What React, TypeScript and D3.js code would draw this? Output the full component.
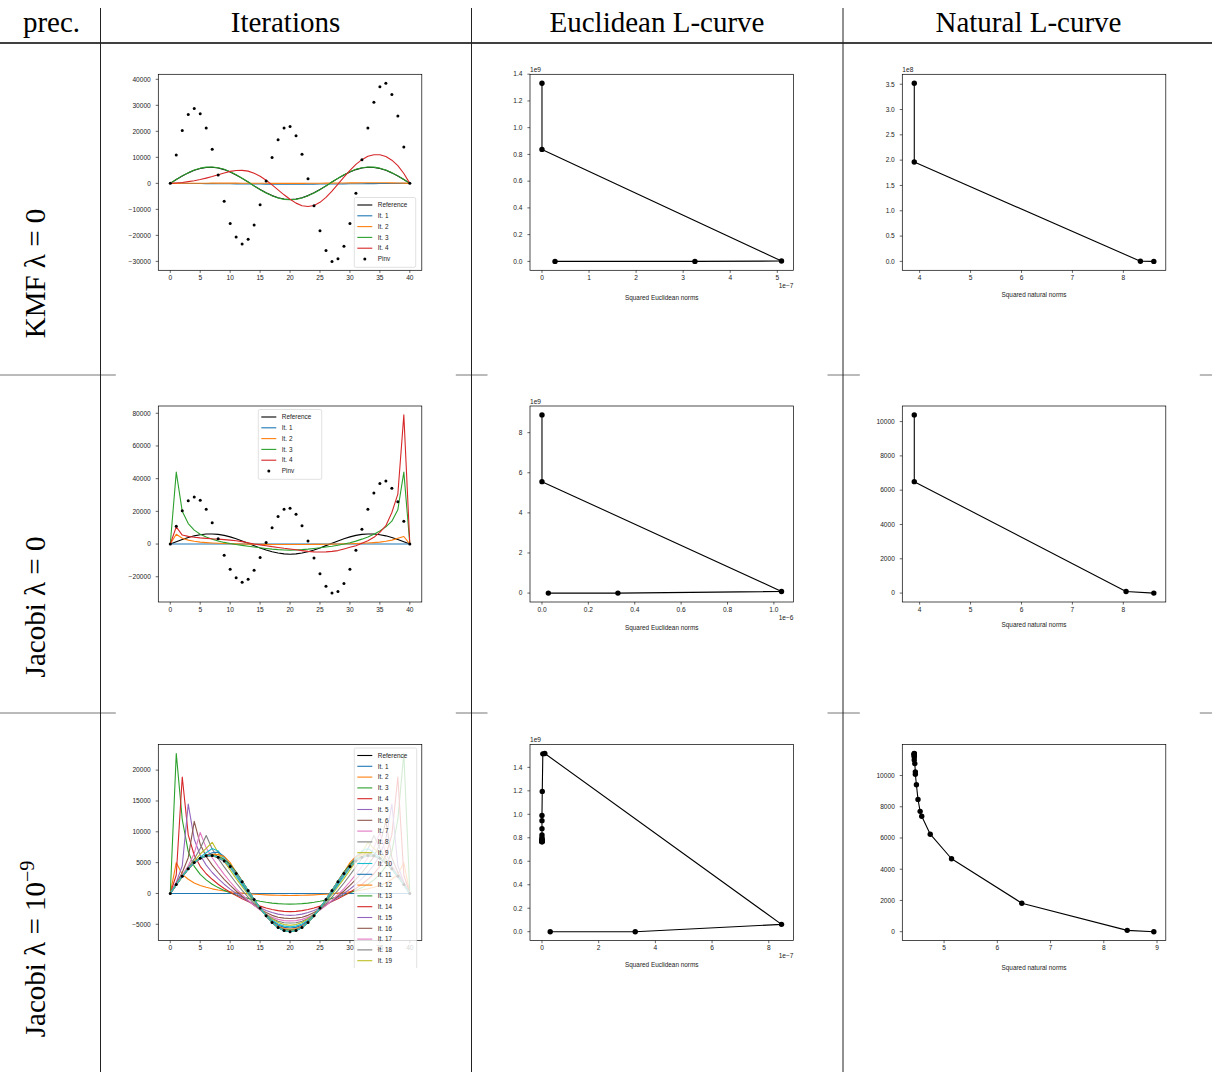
import * as d3 from "d3";

const W = 1212;
const H = 1072;
// plot frame size of every small matplotlib figure
const FW = 263.5;
const FH = 196;
const COL_X = [158.3, 530, 902.3];
const ROW_Y = [74.3, 406, 744.6];
// white backgrounds of the embedded figure images (they hide the table rules)
const IMG_TOP = [44, 374, 712];
const IMG_BOTTOM = [299, 629, 968];

const TAB10 = ["#1f77b4", "#ff7f0e", "#2ca02c", "#d62728", "#9467bd", "#8c564b", "#e377c2", "#7f7f7f", "#bcbd22", "#17becf"];

const SANS = "'Liberation Sans', Arial, Helvetica, sans-serif";
const SERIF = "'Liberation Serif', 'Times New Roman', Times, serif";

const columnTitles = ["prec.", "Iterations", "Euclidean L-curve", "Natural L-curve"];

// ---------- iterations: grid nodes 0..40 ----------
const nodes = [0, 1, 2, 3, 4, 5, 6, 7, 8, 9, 10, 11, 12, 13, 14, 15, 16, 17, 18, 19, 20, 21, 22, 23, 24, 25, 26, 27, 28, 29, 30, 31, 32, 33, 34, 35, 36, 37, 38, 39, 40];

const reference = [0, 1450, 2810, 4030, 5020, 5730, 6120, 6180, 5900, 5290, 4380, 3240, 1920, 490, -970, -2370, -3640, -4710, -5520, -6030, -6200, -6030, -5520, -4710, -3640, -2370, -970, 490, 1920, 3240, 4380, 5290, 5900, 6180, 6120, 5730, 5020, 4030, 2810, 1450, 0];

const pinv = [0, 10900, 20300, 26500, 28800, 26800, 21300, 13100, 3200, -6900, -15400, -20600, -23300, -21500, -16000, -8200, 900, 9900, 16800, 21300, 21900, 18300, 11200, 1800, -8600, -18200, -25800, -30000, -29000, -24200, -15400, -3800, 9100, 21300, 31200, 37100, 38500, 34200, 25900, 14000, 0];

const pinvReg = [0, 1440, 2800, 4020, 5010, 5720, 6110, 6170, 5890, 5280, 4370, 3230, 1910, 490, -960, -2360, -3630, -4700, -5510, -6020, -6190, -6020, -5510, -4700, -3630, -2360, -960, 490, 1910, 3230, 4370, 5280, 5890, 6170, 6110, 5720, 5010, 4020, 2800, 1440, 0];

// KMF, lambda = 0
const kmfIt1 = [0, -10, -20, -40, -60, -80, -100, -120, -140, -160, -180, -200, -220, -240, -260, -270, -280, -290, -300, -300, -300, -300, -300, -290, -280, -270, -260, -240, -220, -200, -180, -160, -140, -120, -100, -80, -60, -40, -20, -10, 0];
const kmfIt2 = [0, 10, 20, 30, 40, 50, 60, 70, 80, 80, 80, 70, 60, 50, 40, 30, 20, 10, 0, 0, 0, 0, 10, 20, 40, 60, 80, 100, 120, 150, 180, 200, 220, 240, 250, 250, 240, 200, 150, 80, 0];
const kmfIt3 = [0, 1480, 2870, 4110, 5120, 5840, 6240, 6300, 6020, 5400, 4470, 3300, 1960, 500, -990, -2420, -3710, -4800, -5630, -6150, -6320, -6150, -5630, -4800, -3710, -2420, -990, 500, 1960, 3300, 4470, 5400, 6020, 6300, 6240, 5840, 5120, 4110, 2870, 1480, 0];
const kmfIt4 = [0, 150, 350, 650, 1000, 1450, 2000, 2600, 3300, 4000, 4600, 4950, 5000, 4700, 3900, 2700, 1200, -600, -2500, -4400, -6100, -7600, -8600, -8900, -8500, -7300, -5400, -3000, -300, 2400, 5000, 7300, 9100, 10400, 11000, 11000, 10300, 8900, 6800, 3800, 0];

// Jacobi, lambda = 0
const jacIt1 = [0, 0, 0, 0, 0, 0, 0, 0, 0, 0, 0, 0, 0, 0, 0, 0, 0, 0, 0, 0, 0, 0, 0, 0, 0, 0, 0, 0, 0, 0, 0, 0, 0, 0, 0, 0, 0, 0, 0, 0, 0];
const jacIt2 = [0, 6000, 3600, 2400, 1700, 1200, 900, 650, 450, 300, 180, 80, 0, -60, -120, -170, -210, -240, -260, -270, -270, -270, -260, -240, -210, -170, -120, -60, 0, 80, 180, 300, 450, 650, 900, 1200, 1700, 2400, 3600, 4600, 0];
const jacIt3 = [0, 44000, 20000, 12500, 8500, 6000, 4300, 3000, 1900, 1000, 300, -300, -800, -1300, -1800, -2300, -2700, -3100, -3400, -3600, -3700, -3600, -3400, -3100, -2700, -2300, -1800, -1300, -700, 0, 800, 1800, 3000, 4300, 6000, 8000, 10500, 14000, 21000, 44000, 0];
const jacIt4 = [0, 10500, 5500, 4700, 4200, 3800, 3500, 3200, 3000, 2700, 2400, 2000, 1500, 800, 0, -500, -1000, -1600, -2100, -2600, -3000, -3500, -4000, -4500, -4800, -4900, -4800, -4500, -4000, -3000, -2000, -1000, 500, 2000, 4100, 7100, 11200, 19300, 30500, 79000, 0];

// Jacobi, lambda = 1e-9
const regIt1 = [0, 0, 0, 0, 0, 0, 0, 0, 0, 0, 0, 0, 0, 0, 0, 0, 0, 0, 0, 0, 0, 0, 0, 0, 0, 0, 0, 0, 0, 0, 0, 0, 0, 0, 0, 0, 0, 0, 0, 0, 0];
const regIt2 = [0, 5000, 3100, 2300, 1700, 1300, 1000, 750, 550, 400, 280, 150, 50, -40, -120, -180, -230, -270, -300, -310, -320, -310, -300, -270, -230, -180, -120, -40, 50, 150, 280, 400, 550, 750, 1000, 1300, 1700, 2300, 3100, 5000, 0];
const regIt3 = [0, 22700, 12000, 6800, 4400, 3100, 2200, 1500, 950, 500, 100, -250, -550, -800, -1050, -1250, -1420, -1560, -1650, -1710, -1730, -1710, -1650, -1560, -1420, -1250, -1050, -800, -550, -250, 100, 500, 950, 1500, 2200, 3100, 4400, 6800, 12000, 22700, 0];
const regIt4 = [0, 3000, 18900, 9500, 6200, 4400, 3200, 2300, 1500, 800, 200, -350, -850, -1300, -1700, -2050, -2350, -2600, -2780, -2900, -2950, -2900, -2780, -2600, -2350, -2050, -1700, -1300, -850, -350, 200, 800, 1500, 2300, 3200, 4400, 6200, 9500, 18900, 3000, 0];
const regIt5 = [0, 1800, 4500, 14500, 8800, 6200, 4600, 3400, 2400, 1500, 700, 0, -650, -1250, -1800, -2300, -2750, -3100, -3350, -3500, -3550, -3500, -3350, -3100, -2750, -2300, -1800, -1250, -650, 0, 700, 1500, 2400, 3400, 4600, 6200, 8800, 14500, 4500, 1800, 0];
const regIt6 = [0, 1600, 3400, 5800, 11700, 8000, 6000, 4600, 3400, 2300, 1300, 400, -450, -1200, -1900, -2550, -3100, -3550, -3850, -4000, -4050, -4000, -3850, -3550, -3100, -2550, -1900, -1200, -450, 400, 1300, 2300, 3400, 4600, 6000, 8000, 11700, 5800, 3400, 1600, 0];
const regIt7 = [0, 1500, 3000, 4500, 6500, 9900, 7400, 5800, 4400, 3100, 1900, 800, -200, -1100, -1950, -2700, -3350, -3850, -4200, -4400, -4450, -4400, -4200, -3850, -3350, -2700, -1950, -1100, -200, 800, 1900, 3100, 4400, 5800, 7400, 9900, 6500, 4500, 3000, 1500, 0];
const regIt8 = [0, 1400, 2800, 4200, 5600, 7300, 9400, 7200, 5700, 4300, 3000, 1700, 500, -600, -1650, -2600, -3400, -4050, -4500, -4750, -4800, -4750, -4500, -4050, -3400, -2600, -1650, -600, 500, 1700, 3000, 4300, 5700, 7200, 9400, 7300, 5600, 4200, 2800, 1400, 0];
const regIt9 = [0, 1400, 2700, 4000, 5200, 6400, 7300, 8300, 6600, 5200, 3800, 2400, 1100, -150, -1300, -2400, -3350, -4150, -4700, -5050, -5150, -5050, -4700, -4150, -3350, -2400, -1300, -150, 1100, 2400, 3800, 5200, 6600, 8300, 7300, 6400, 5200, 4000, 2700, 1400, 0];
const regIt10 = [0, 1400, 2700, 3900, 5000, 5900, 6600, 7300, 6900, 5600, 4200, 2800, 1400, 50, -1200, -2400, -3450, -4350, -4950, -5300, -5400, -5300, -4950, -4350, -3450, -2400, -1200, 50, 1400, 2800, 4200, 5600, 6900, 7300, 6600, 5900, 5000, 3900, 2700, 1400, 0];
const regIt11 = [0, 1400, 2750, 3950, 4950, 5700, 6200, 6600, 6700, 6000, 4600, 3100, 1650, 200, -1150, -2400, -3550, -4500, -5150, -5500, -5600, -5500, -5150, -4500, -3550, -2400, -1150, 200, 1650, 3100, 4600, 6000, 6700, 6600, 6200, 5700, 4950, 3950, 2750, 1400, 0];
const regIt12 = [0, 1450, 2800, 4000, 4950, 5700, 6150, 6350, 6300, 6000, 5000, 3400, 1900, 350, -1050, -2400, -3600, -4600, -5300, -5700, -5800, -5700, -5300, -4600, -3600, -2400, -1050, 350, 1900, 3400, 5000, 6000, 6300, 6350, 6150, 5700, 4950, 4000, 2800, 1450, 0];
const regIt13 = [0, 1450, 2800, 4000, 5000, 5700, 6150, 6250, 6000, 5500, 4700, 3500, 2000, 450, -1000, -2400, -3650, -4700, -5450, -5850, -5950, -5850, -5450, -4700, -3650, -2400, -1000, 450, 2000, 3500, 4700, 5500, 6000, 6250, 6150, 5700, 5000, 4000, 2800, 1450, 0];
const regIt14 = [0, 1450, 2800, 4020, 5010, 5720, 6130, 6200, 5950, 5350, 4500, 3400, 2000, 500, -1000, -2400, -3660, -4720, -5500, -5950, -6050, -5950, -5500, -4720, -3660, -2400, -1000, 500, 2000, 3400, 4500, 5350, 5950, 6200, 6130, 5720, 5010, 4020, 2800, 1450, 0];
const regIt15 = [0, 1430, 2760, 3960, 4930, 5630, 6020, 6080, 5810, 5210, 4310, 3190, 1890, 480, -950, -2330, -3580, -4630, -5430, -5930, -6100, -5930, -5430, -4630, -3580, -2330, -950, 480, 1890, 3190, 4310, 5210, 5810, 6080, 6020, 5630, 4930, 3960, 2760, 1430, 0];
const regIt16 = [0, 1440, 2790, 3990, 4970, 5680, 6060, 6120, 5840, 5240, 4340, 3210, 1900, 490, -960, -2350, -3600, -4660, -5460, -5970, -6140, -5970, -5460, -4660, -3600, -2350, -960, 490, 1900, 3210, 4340, 5240, 5840, 6120, 6060, 5680, 4970, 3990, 2790, 1440, 0];
const regIt17 = [0, 1445, 2800, 4010, 5000, 5710, 6100, 6160, 5880, 5270, 4360, 3230, 1910, 490, -965, -2360, -3620, -4690, -5500, -6000, -6170, -6000, -5500, -4690, -3620, -2360, -965, 490, 1910, 3230, 4360, 5270, 5880, 6160, 6100, 5710, 5000, 4010, 2800, 1445, 0];
const regIt18 = [0, 1450, 2805, 4020, 5010, 5720, 6110, 6170, 5890, 5280, 4370, 3235, 1915, 490, -968, -2365, -3630, -4700, -5510, -6020, -6190, -6020, -5510, -4700, -3630, -2365, -968, 490, 1915, 3235, 4370, 5280, 5890, 6170, 6110, 5720, 5010, 4020, 2805, 1450, 0];
const regIt19 = [0, 1450, 2808, 4025, 5015, 5725, 6115, 6175, 5895, 5285, 4375, 3238, 1918, 490, -969, -2368, -3635, -4705, -5515, -6025, -6195, -6025, -5515, -4705, -3635, -2368, -969, 490, 1918, 3238, 4375, 5285, 5895, 6175, 6115, 5725, 5015, 4025, 2808, 1450, 0];
const regIt20 = [0, 1450, 2810, 4030, 5020, 5730, 6120, 6180, 5900, 5290, 4380, 3240, 1920, 490, -970, -2370, -3640, -4710, -5520, -6030, -6200, -6030, -5520, -4710, -3640, -2370, -970, 490, 1920, 3240, 4380, 5290, 5900, 6180, 6120, 5730, 5020, 4030, 2810, 1450, 0];

// ---------- L-curves ----------
// Euclidean: x in units of the offset shown on the axis, y in units of 1e9
const euc1X = [0.277, 3.25, 5.09, 0.0, 0.0];
const euc1Y = [0.0, 0.0, 0.0025, 0.8375, 1.3325];
const euc2X = [0.0274, 0.3275, 1.033, 0.0, 0.0];
const euc2Y = [0.0, 0.0, 0.083, 5.557, 8.885];
const euc3X = [0.29, 3.29, 8.45, 0.1, 0.03, 0.01, 0.0, 0.0, 0.0, 0.0, 0.0, 0.0, 0.0, 0.0, 0.0, 0.0, 0.0, 0.0, 0.0, 0.0];
const euc3Y = [0.0, 0.0, 0.0625, 1.518, 1.515, 1.195, 0.99, 0.946, 0.878, 0.824, 0.8, 0.79, 0.782, 0.776, 0.772, 0.77, 0.769, 0.768, 0.767, 0.767];

// Natural
const nat1X = [8.598, 8.335, 3.895, 3.895];
const nat1Y = [0.0, 0.003, 1.962, 3.52];
const nat2X = [8.599, 8.054, 3.895, 3.895];
const nat2Y = [0, 97, 6498, 10389];
const nat3X = [8.94, 8.44, 6.46, 5.14, 4.74, 4.58, 4.55, 4.51, 4.48, 4.46, 4.46, 4.45, 4.44, 4.44, 4.44, 4.44, 4.44, 4.44, 4.44, 4.44];
const nat3Y = [0, 85, 1826, 4671, 6242, 7389, 7707, 8471, 9406, 10085, 10234, 10764, 11000, 11189, 11250, 11316, 11350, 11380, 11401, 11410];

// ---------- ticks ----------
const iterXTicks = [0, 5, 10, 15, 20, 25, 30, 35, 40];
const kmfYTicks = [-30000, -20000, -10000, 0, 10000, 20000, 30000, 40000];
const jacYTicks = [-20000, 0, 20000, 40000, 60000, 80000];
const regYTicks = [-5000, 0, 5000, 10000, 15000, 20000];
const euc1XTicks = [0, 1, 2, 3, 4, 5];
const euc1YTicks = [0, 0.2, 0.4, 0.6, 0.8, 1.0, 1.2, 1.4];
const euc2XTicks = [0, 0.2, 0.4, 0.6, 0.8, 1.0];
const euc2YTicks = [0, 2, 4, 6, 8];
const euc3XTicks = [0, 2, 4, 6, 8];
const euc3YTicks = [0, 0.2, 0.4, 0.6, 0.8, 1.0, 1.2, 1.4];
const nat1XTicks = [4, 5, 6, 7, 8];
const nat1YTicks = [0, 0.5, 1.0, 1.5, 2.0, 2.5, 3.0, 3.5];
const nat2XTicks = [4, 5, 6, 7, 8];
const nat2YTicks = [0, 2000, 4000, 6000, 8000, 10000];
const nat3XTicks = [5, 6, 7, 8, 9];
const nat3YTicks = [0, 2000, 4000, 6000, 8000, 10000];

const MINUS = "\u2212";
const fmtInt = (v: number) => (v < 0 ? MINUS + Math.abs(v) : String(v));
const fmt1 = (v: number) => (v < 0 ? MINUS : "") + Math.abs(v).toFixed(1);

type Mark = { xs: number[]; ys: number[]; color: string; line?: boolean; r?: number };
type LegendItem = { label: string; color: string; dot?: boolean };
type Legend = { x: number; y: number; w: number; items: LegendItem[] };

type PanelProps = {
    id: string;
    left: number;
    top: number;
    marks: Mark[];
    xTicks: number[];
    yTicks: number[];
    xFmt: (v: number) => string;
    yFmt: (v: number) => string;
    xOffset?: string;
    yOffset?: string;
    xLabel?: string;
    xLabelDy?: number;
    legend?: Legend;
    clipBottom?: number;
};

// matplotlib style autoscale: data extent + 5% margin
const padded = (vals: number[]): [number, number] => {
    const lo = d3.min(vals) ?? 0;
    const hi = d3.max(vals) ?? 1;
    const d = (hi - lo) * 0.05;
    return [lo - d, hi + d];
};

const Panel = (p: PanelProps) => {
    const right = p.left + FW;
    const bottom = p.top + FH;
    const x = d3.scaleLinear().domain(padded(p.marks.flatMap((m) => m.xs))).range([p.left, right]);
    const y = d3.scaleLinear().domain(padded(p.marks.flatMap((m) => m.ys))).range([bottom, p.top]);
    const line = d3
        .line<[number, number]>()
        .x((d) => x(d[0]))
        .y((d) => y(d[1]));

    const lg = p.legend;
    const ROW = 10.8;

    return (
        <g fontFamily={SANS}>
            <defs>
                <clipPath id={`${p.id}-ax`}>
                    <rect x={p.left} y={p.top} width={FW} height={FH} />
                </clipPath>
                {p.clipBottom && (
                    <clipPath id={`${p.id}-cut`}>
                        <rect x={0} y={0} width={W} height={p.clipBottom} />
                    </clipPath>
                )}
            </defs>
            <g clipPath={`url(#${p.id}-ax)`}>
                {p.marks.map((m, k) => {
                    const pts = m.xs.map((v, i) => [v, m.ys[i]] as [number, number]);
                    return (
                        <g key={k}>
                            {m.line && (
                                <path d={line(pts) || ""} fill="none" stroke={m.color} strokeWidth={1.1} strokeLinejoin="round" />
                            )}
                            {m.r && pts.map((d, i) => <circle key={i} cx={x(d[0])} cy={y(d[1])} r={m.r} fill={m.color} />)}
                        </g>
                    );
                })}
            </g>
            <rect x={p.left} y={p.top} width={FW} height={FH} fill="none" stroke="#000" strokeWidth={0.7} />
            {p.xTicks.map((t) => (
                <g key={"x" + t}>
                    <line x1={x(t)} x2={x(t)} y1={bottom} y2={bottom + 2.6} stroke="#000" strokeWidth={0.6} />
                    <text x={x(t)} y={bottom + 9.5} textAnchor="middle" fontSize={6.6} fill="#222">
                        {p.xFmt(t)}
                    </text>
                </g>
            ))}
            {p.yTicks.map((t) => (
                <g key={"y" + t}>
                    <line x1={p.left - 2.6} x2={p.left} y1={y(t)} y2={y(t)} stroke="#000" strokeWidth={0.6} />
                    <text x={p.left - 7.5} y={y(t)} dy="0.35em" textAnchor="end" fontSize={6.6} fill="#222">
                        {p.yFmt(t)}
                    </text>
                </g>
            ))}
            {p.yOffset && (
                <text x={p.left} y={p.top - 2.5} fontSize={6.6} fill="#222">
                    {p.yOffset}
                </text>
            )}
            {p.xOffset && (
                <text x={right} y={bottom + 17.5} textAnchor="end" fontSize={6.6} fill="#222">
                    {p.xOffset}
                </text>
            )}
            {p.xLabel && (
                <text x={(p.left + right) / 2} y={bottom + (p.xLabelDy || 27)} textAnchor="middle" fontSize={6.4} fill="#222">
                    {p.xLabel}
                </text>
            )}
            {lg && (
                <g clipPath={p.clipBottom ? `url(#${p.id}-cut)` : undefined}>
                    <rect
                        x={lg.x}
                        y={lg.y}
                        width={lg.w}
                        height={lg.items.length * ROW + 5}
                        rx={1.5}
                        fill="#fff"
                        fillOpacity={0.8}
                        stroke="#ccc"
                        strokeWidth={0.6}
                    />
                    {lg.items.map((it, i) => {
                        const cy = lg.y + 7.5 + i * ROW;
                        return (
                            <g key={i}>
                                {it.dot ? (
                                    <circle cx={lg.x + 10.5} cy={cy} r={1.5} fill={it.color} />
                                ) : (
                                    <line x1={lg.x + 3} x2={lg.x + 18} y1={cy} y2={cy} stroke={it.color} strokeWidth={1.1} />
                                )}
                                <text x={lg.x + 23.5} y={cy} dy="0.35em" fontSize={6.4} fill="#222">
                                    {it.label}
                                </text>
                            </g>
                        );
                    })}
                </g>
            )}
        </g>
    );
};

const iterMarks = (its: number[][], dots: number[]): Mark[] => [
    { xs: nodes, ys: reference, color: "#000", line: true },
    ...its.map((ys, i) => ({ xs: nodes, ys, color: TAB10[i % 10], line: true })),
    { xs: nodes, ys: dots, color: "#000", r: 1.5 },
];

const iterLegend = (n: number): LegendItem[] => [
    { label: "Reference", color: "#000" },
    ...d3.range(n).map((i) => ({ label: `It. ${i + 1}`, color: TAB10[i % 10] })),
    { label: "Pinv", color: "#000", dot: true },
];

const lcurve = (xs: number[], ys: number[]): Mark[] => [{ xs, ys, color: "#000", line: true, r: 2.7 }];

const kmfIts = [kmfIt1, kmfIt2, kmfIt3, kmfIt4];
const jacIts = [jacIt1, jacIt2, jacIt3, jacIt4];
const regIts = [regIt1, regIt2, regIt3, regIt4, regIt5, regIt6, regIt7, regIt8, regIt9, regIt10, regIt11, regIt12, regIt13, regIt14, regIt15, regIt16, regIt17, regIt18, regIt19, regIt20];

export default function App() {
    const titleX = [51.5, 285.5, 657, 1028.5];
    return (
        <svg width={W} height={H} style={{ position: "absolute", left: 0, top: 0, background: "#fff" }}>
            <rect width={W} height={H} fill="#fff" />
            {/* table */}
            {columnTitles.map((t, i) => (
                <text key={t} x={titleX[i]} y={32} textAnchor="middle" fontFamily={SERIF} fontSize={29} fill="#000">
                    {t}
                </text>
            ))}
            <line x1={0} x2={W} y1={43} y2={43} stroke="#000" strokeWidth={1.3} />
            <line x1={0} x2={W} y1={375} y2={375} stroke="#777" strokeWidth={1} />
            <line x1={0} x2={W} y1={713} y2={713} stroke="#777" strokeWidth={1} />
            {[100.5, 471.5, 843].map((vx) => (
                <line key={vx} x1={vx} x2={vx} y1={8} y2={H} stroke="#222" strokeWidth={1} />
            ))}
            <g fontFamily={SERIF} fontSize={29} fill="#000" textAnchor="middle">
                <text transform="translate(45,273.5) rotate(-90)">KMF λ = 0</text>
                <text transform="translate(45,607) rotate(-90)">Jacobi λ = 0</text>
                <text transform="translate(45,949) rotate(-90)">
                    Jacobi λ = 10
                    <tspan fontSize={20} dy={-11}>
                        {MINUS}9
                    </tspan>
                </text>
            </g>

            {/* white figure backgrounds */}
            {IMG_TOP.map((t, r) =>
                COL_X.map((cx, c) => (
                    <rect key={`bg${r}${c}`} x={cx - 42.5} y={t} width={340} height={IMG_BOTTOM[r] - t} fill="#fff" />
                ))
            )}

            {/* row 1: KMF lambda = 0 */}
            <Panel
                id="p11"
                left={COL_X[0]}
                top={ROW_Y[0]}
                marks={iterMarks(kmfIts, pinv)}
                xTicks={iterXTicks}
                yTicks={kmfYTicks}
                xFmt={fmtInt}
                yFmt={fmtInt}
                legend={{ x: 354.3, y: 197.5, w: 61.4, items: iterLegend(4) }}
            />
            <Panel
                id="p12"
                left={COL_X[1]}
                top={ROW_Y[0]}
                marks={lcurve(euc1X, euc1Y)}
                xTicks={euc1XTicks}
                yTicks={euc1YTicks}
                xFmt={fmtInt}
                yFmt={fmt1}
                xOffset={`1e${MINUS}7`}
                yOffset="1e9"
                xLabel="Squared Euclidean norms"
                xLabelDy={29.5}
            />
            <Panel
                id="p13"
                left={COL_X[2]}
                top={ROW_Y[0]}
                marks={lcurve(nat1X, nat1Y)}
                xTicks={nat1XTicks}
                yTicks={nat1YTicks}
                xFmt={fmtInt}
                yFmt={fmt1}
                yOffset="1e8"
                xLabel="Squared natural norms"
                xLabelDy={27}
            />

            {/* row 2: Jacobi lambda = 0 */}
            <Panel
                id="p21"
                left={COL_X[0]}
                top={ROW_Y[1]}
                marks={iterMarks(jacIts, pinv)}
                xTicks={iterXTicks}
                yTicks={jacYTicks}
                xFmt={fmtInt}
                yFmt={fmtInt}
                legend={{ x: 258.3, y: 409.5, w: 63.4, items: iterLegend(4) }}
            />
            <Panel
                id="p22"
                left={COL_X[1]}
                top={ROW_Y[1]}
                marks={lcurve(euc2X, euc2Y)}
                xTicks={euc2XTicks}
                yTicks={euc2YTicks}
                xFmt={fmt1}
                yFmt={fmtInt}
                xOffset={`1e${MINUS}6`}
                yOffset="1e9"
                xLabel="Squared Euclidean norms"
                xLabelDy={28}
            />
            <Panel
                id="p23"
                left={COL_X[2]}
                top={ROW_Y[1]}
                marks={lcurve(nat2X, nat2Y)}
                xTicks={nat2XTicks}
                yTicks={nat2YTicks}
                xFmt={fmtInt}
                yFmt={fmtInt}
                xLabel="Squared natural norms"
                xLabelDy={25}
            />

            {/* row 3: Jacobi lambda = 1e-9 */}
            <Panel
                id="p31"
                left={COL_X[0]}
                top={ROW_Y[2]}
                marks={iterMarks(regIts, pinvReg)}
                xTicks={iterXTicks}
                yTicks={regYTicks}
                xFmt={fmtInt}
                yFmt={fmtInt}
                legend={{ x: 354.3, y: 748, w: 62.4, items: iterLegend(20) }}
                clipBottom={968}
            />
            <Panel
                id="p32"
                left={COL_X[1]}
                top={ROW_Y[2]}
                marks={lcurve(euc3X, euc3Y)}
                xTicks={euc3XTicks}
                yTicks={euc3YTicks}
                xFmt={fmtInt}
                yFmt={fmt1}
                xOffset={`1e${MINUS}7`}
                yOffset="1e9"
                xLabel="Squared Euclidean norms"
                xLabelDy={26.5}
            />
            <Panel
                id="p33"
                left={COL_X[2]}
                top={ROW_Y[2]}
                marks={lcurve(nat3X, nat3Y)}
                xTicks={nat3XTicks}
                yTicks={nat3YTicks}
                xFmt={fmtInt}
                yFmt={fmtInt}
                xLabel="Squared natural norms"
                xLabelDy={29}
            />
        </svg>
    );
}
